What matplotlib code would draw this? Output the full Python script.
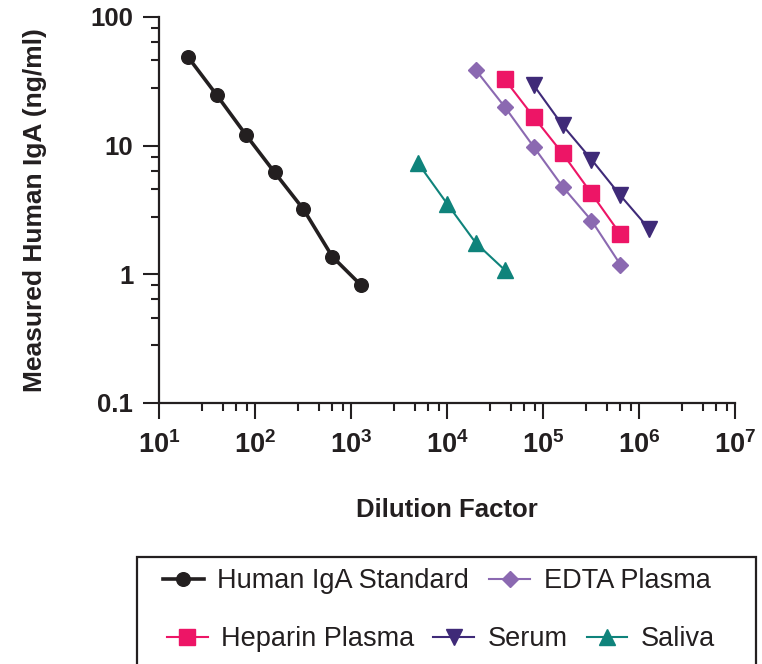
import numpy as np
import matplotlib
matplotlib.use("Agg")
import matplotlib.pyplot as plt
from matplotlib.ticker import FixedLocator, FuncFormatter
from matplotlib.patches import Rectangle

plt.rcParams['font.family'] = ['Liberation Sans', 'DejaVu Sans']
plt.rcParams['mathtext.fontset'] = 'custom'
plt.rcParams['mathtext.bf'] = 'Liberation Sans:bold'
plt.rcParams['mathtext.rm'] = 'Liberation Sans:bold'

TXT = '#231f20'

# data
std_x = [20, 40, 80, 160, 320, 640, 1280]
std_y = [49, 24.7, 12.2, 6.2, 3.2, 1.37, 0.82]

edta_x = [20000, 40000, 80000, 160000, 320000, 640000]
edta_y = [38.6, 20.0, 9.8, 4.8, 2.62, 1.19]

hep_x = [40000, 80000, 160000, 320000, 640000]
hep_y = [32.7, 16.7, 8.7, 4.25, 2.05]

serum_x = [80000, 160000, 320000, 640000, 1280000]
serum_y = [29.5, 14.4, 7.8, 4.1, 2.25]

saliva_x = [5000, 10000, 20000, 40000]
saliva_y = [7.3, 3.55, 1.75, 1.08]

fig = plt.figure(figsize=(7.62, 6.64), dpi=100)
ax = fig.add_axes([159/762, 1-403/664, (735-159)/762, (403-17)/664])

l_std, = ax.plot(std_x, std_y, '-o', color=TXT, lw=2.6, ms=9.8, label='Human IgA Standard')
l_edta, = ax.plot(edta_x, edta_y, '-D', color='#8b69b1', lw=1.5, ms=8, label='EDTA Plasma')
l_hep, = ax.plot(hep_x, hep_y, '-s', color='#ed1566', lw=1.5, ms=11.2, label='Heparin Plasma')
l_ser, = ax.plot(serum_x, serum_y, '-v', color='#3f2a78', lw=1.5, ms=11.2, label='Serum')
l_sal, = ax.plot(saliva_x, saliva_y, '-^', color='#0f837b', lw=1.5, ms=11.2, label='Saliva')

ax.set_xscale('log')
ax.set_yscale('log')
ax.set_xlim(10, 1e7)
ax.set_ylim(0.1, 100)

for s in ['top', 'right']:
    ax.spines[s].set_visible(False)
for s in ['left', 'bottom']:
    ax.spines[s].set_linewidth(1.6)
    ax.spines[s].set_color(TXT)

# minor ticks split each decade linearly in five
minor_x = [d * m for d in [10, 100, 1e3, 1e4, 1e5, 1e6] for m in [2.8, 4.6, 6.4, 8.2]]
minor_y = [d * m for d in [0.1, 1, 10] for m in [2.8, 4.6, 6.4, 8.2]]
ax.xaxis.set_major_locator(FixedLocator([1e1, 1e2, 1e3, 1e4, 1e5, 1e6, 1e7]))
ax.xaxis.set_minor_locator(FixedLocator(minor_x))
ax.yaxis.set_major_locator(FixedLocator([0.1, 1, 10, 100]))
ax.yaxis.set_minor_locator(FixedLocator(minor_y))
ax.xaxis.set_major_formatter(FuncFormatter(lambda v, p: r'$\mathbf{10^{%d}}$' % round(np.log10(v))))
ax.xaxis.set_minor_formatter(FuncFormatter(lambda v, p: ''))
ax.yaxis.set_major_formatter(FuncFormatter(lambda v, p: '%g' % v))
ax.yaxis.set_minor_formatter(FuncFormatter(lambda v, p: ''))

ax.tick_params(which='major', direction='out', length=11.5, width=1.5, color=TXT,
               labelcolor=TXT)
ax.tick_params(which='minor', direction='out', length=5.8, width=1.5, color=TXT)
ax.tick_params(axis='x', which='major', pad=9, labelsize=19.5)
ax.tick_params(axis='y', which='major', pad=7, labelsize=18.5)
for t in ax.get_yticklabels():
    t.set_fontweight('bold')

ax.set_xlabel('Dilution Factor', fontsize=18.5, fontweight='bold', color=TXT, labelpad=28)
ax.set_ylabel('Measured Human IgA (ng/ml)', fontsize=19, fontweight='bold', color=TXT, labelpad=31)

# legend laid out in two rows like the original
leg_kw = dict(frameon=False, fontsize=19.5, handlelength=1.5, handletextpad=0.5,
              borderpad=0, borderaxespad=0, loc='center left', labelcolor=TXT)
fig.legend(handles=[l_std, l_edta], ncol=2, columnspacing=0.75,
           bbox_to_anchor=(163/762, 1-581/664), **leg_kw)
fig.legend(handles=[l_hep, l_ser, l_sal], ncol=3, columnspacing=0.7,
           bbox_to_anchor=(167/762, 1-639/664), **leg_kw)
fig.patches.append(Rectangle((137/762, -0.05), (756-137)/762, 0.05+1-557/664,
                             transform=fig.transFigure, fill=False, lw=1.6,
                             edgecolor=TXT, clip_on=False))

fig.savefig('out.png', dpi=100)
